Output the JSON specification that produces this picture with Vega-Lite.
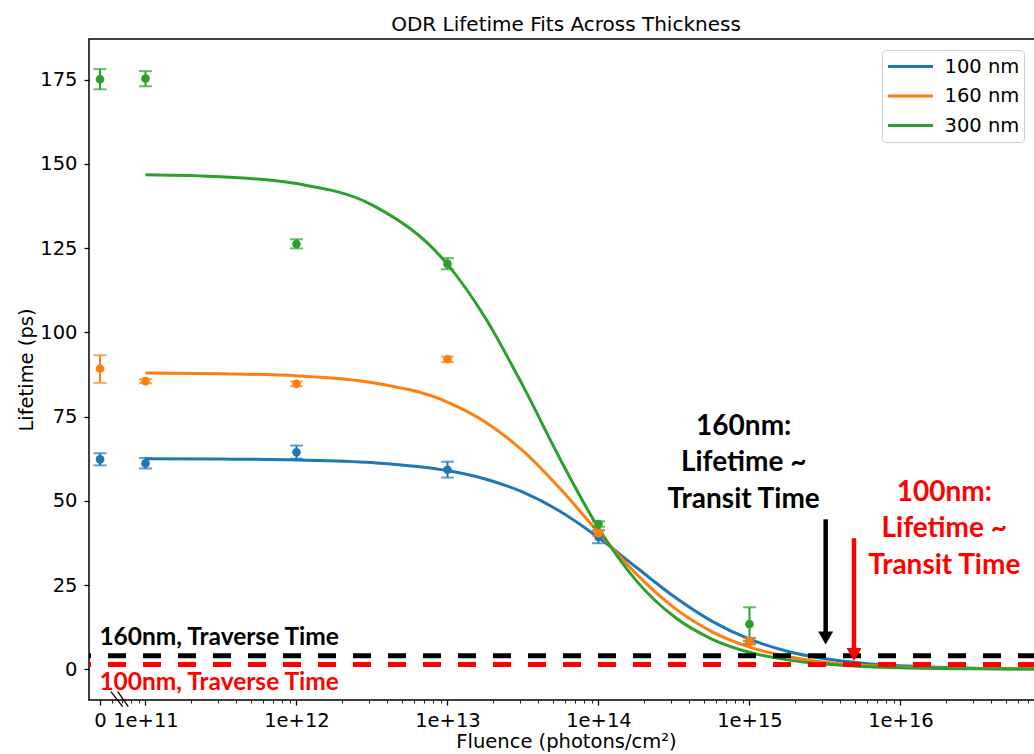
{
  "$schema": "https://vega.github.io/schema/vega-lite/v6.json",
  "width": 947,
  "height": 661,
  "autosize": {"type": "none"},
  "padding": {"left": 89, "top": 39, "right": -2, "bottom": 54},
  "background": "white",
  "title": {"text": "ODR Lifetime Fits Across Thickness", "font": "DejaVu Sans", "fontSize": 20, "fontWeight": "normal", "color": "black", "offset": 4, "dx": 3.5},
  "config": {
    "view": {"stroke": "black", "strokeWidth": 1.5},
    "axis": {"grid": false, "domain": false, "tickColor": "black", "tickWidth": 1.3, "tickSize": 5, "labelFont": "DejaVu Sans", "labelFontSize": 19.5, "labelColor": "black", "titleFont": "DejaVu Sans", "titleFontSize": 19.5, "titleFontWeight": "normal", "titleColor": "black"}
  },
  "datasets": {
    "points": [
      {"series": "100 nm", "fluence": 5e10, "lifetime": 62.3, "lo": 60.5, "hi": 64.1},
      {"series": "100 nm", "fluence": 1e11, "lifetime": 61.1, "lo": 59.6, "hi": 62.7},
      {"series": "100 nm", "fluence": 1e12, "lifetime": 64.4, "lo": 62.5, "hi": 66.4},
      {"series": "100 nm", "fluence": 1e13, "lifetime": 59.2, "lo": 56.9, "hi": 61.6},
      {"series": "100 nm", "fluence": 1e14, "lifetime": 39.3, "lo": 37.4, "hi": 41.2},
      {"series": "100 nm", "fluence": 1e15, "lifetime": 8.4, "lo": 7.5, "hi": 9.3},
      {"series": "160 nm", "fluence": 5e10, "lifetime": 89.2, "lo": 85.0, "hi": 93.2},
      {"series": "160 nm", "fluence": 1e11, "lifetime": 85.5, "lo": 84.9, "hi": 86.1},
      {"series": "160 nm", "fluence": 1e12, "lifetime": 84.7, "lo": 84.0, "hi": 85.4},
      {"series": "160 nm", "fluence": 1e13, "lifetime": 92.0, "lo": 91.2, "hi": 92.8},
      {"series": "160 nm", "fluence": 1e14, "lifetime": 40.4, "lo": 39.6, "hi": 41.2},
      {"series": "160 nm", "fluence": 1e15, "lifetime": 8.3, "lo": 7.3, "hi": 9.3},
      {"series": "300 nm", "fluence": 5e10, "lifetime": 175.1, "lo": 172.1, "hi": 178.1},
      {"series": "300 nm", "fluence": 1e11, "lifetime": 175.3, "lo": 173.0, "hi": 177.5},
      {"series": "300 nm", "fluence": 1e12, "lifetime": 126.2, "lo": 124.9, "hi": 127.6},
      {"series": "300 nm", "fluence": 1e13, "lifetime": 120.3, "lo": 118.7, "hi": 122.0},
      {"series": "300 nm", "fluence": 1e14, "lifetime": 43.1, "lo": 42.3, "hi": 43.9},
      {"series": "300 nm", "fluence": 1e15, "lifetime": 13.4, "lo": 8.4, "hi": 18.4}
    ],
    "fits": [
      {"series": "100 nm", "fluence": 1e11, "lifetime": 62.46},
      {"series": "100 nm", "fluence": 3.162e11, "lifetime": 62.38},
      {"series": "100 nm", "fluence": 1e12, "lifetime": 62.13},
      {"series": "100 nm", "fluence": 3.162e12, "lifetime": 61.34},
      {"series": "100 nm", "fluence": 1e13, "lifetime": 58.97},
      {"series": "100 nm", "fluence": 1.778e13, "lifetime": 56.48},
      {"series": "100 nm", "fluence": 3.162e13, "lifetime": 52.55},
      {"series": "100 nm", "fluence": 5.623e13, "lifetime": 46.75},
      {"series": "100 nm", "fluence": 1e14, "lifetime": 39.09},
      {"series": "100 nm", "fluence": 1.778e14, "lifetime": 30.27},
      {"series": "100 nm", "fluence": 3.162e14, "lifetime": 21.6},
      {"series": "100 nm", "fluence": 5.623e14, "lifetime": 14.31},
      {"series": "100 nm", "fluence": 1e15, "lifetime": 8.95},
      {"series": "100 nm", "fluence": 1.778e15, "lifetime": 5.37},
      {"series": "100 nm", "fluence": 3.162e15, "lifetime": 3.13},
      {"series": "100 nm", "fluence": 5.623e15, "lifetime": 1.81},
      {"series": "100 nm", "fluence": 1e16, "lifetime": 1.02},
      {"series": "100 nm", "fluence": 3.162e16, "lifetime": 0.33},
      {"series": "100 nm", "fluence": 1e17, "lifetime": 0.1},
      {"series": "160 nm", "fluence": 1e11, "lifetime": 87.9},
      {"series": "160 nm", "fluence": 3.162e11, "lifetime": 87.7},
      {"series": "160 nm", "fluence": 1e12, "lifetime": 87.1},
      {"series": "160 nm", "fluence": 3.162e12, "lifetime": 85.1},
      {"series": "160 nm", "fluence": 1e13, "lifetime": 79.3},
      {"series": "160 nm", "fluence": 1.778e13, "lifetime": 73.4},
      {"series": "160 nm", "fluence": 3.162e13, "lifetime": 64.8},
      {"series": "160 nm", "fluence": 5.623e13, "lifetime": 53.4},
      {"series": "160 nm", "fluence": 1e14, "lifetime": 40.6},
      {"series": "160 nm", "fluence": 1.778e14, "lifetime": 28.3},
      {"series": "160 nm", "fluence": 3.162e14, "lifetime": 18.3},
      {"series": "160 nm", "fluence": 5.623e14, "lifetime": 11.2},
      {"series": "160 nm", "fluence": 1e15, "lifetime": 6.6},
      {"series": "160 nm", "fluence": 1.778e15, "lifetime": 3.8},
      {"series": "160 nm", "fluence": 3.162e15, "lifetime": 2.1},
      {"series": "160 nm", "fluence": 5.623e15, "lifetime": 1.2},
      {"series": "160 nm", "fluence": 1e16, "lifetime": 0.68},
      {"series": "160 nm", "fluence": 3.162e16, "lifetime": 0.21},
      {"series": "160 nm", "fluence": 1e17, "lifetime": 0.06},
      {"series": "300 nm", "fluence": 1e11, "lifetime": 146.74},
      {"series": "300 nm", "fluence": 3.162e11, "lifetime": 146.13},
      {"series": "300 nm", "fluence": 1e12, "lifetime": 144.13},
      {"series": "300 nm", "fluence": 3.162e12, "lifetime": 137.81},
      {"series": "300 nm", "fluence": 1e13, "lifetime": 120.16},
      {"series": "300 nm", "fluence": 1.778e13, "lifetime": 104.34},
      {"series": "300 nm", "fluence": 3.162e13, "lifetime": 84.09},
      {"series": "300 nm", "fluence": 5.623e13, "lifetime": 62.05},
      {"series": "300 nm", "fluence": 1e14, "lifetime": 41.93},
      {"series": "300 nm", "fluence": 1.778e14, "lifetime": 26.32},
      {"series": "300 nm", "fluence": 3.162e14, "lifetime": 15.65},
      {"series": "300 nm", "fluence": 5.623e14, "lifetime": 8.98},
      {"series": "300 nm", "fluence": 1e15, "lifetime": 5.05},
      {"series": "300 nm", "fluence": 1.778e15, "lifetime": 2.8},
      {"series": "300 nm", "fluence": 3.162e15, "lifetime": 1.54},
      {"series": "300 nm", "fluence": 5.623e15, "lifetime": 0.85},
      {"series": "300 nm", "fluence": 1e16, "lifetime": 0.46},
      {"series": "300 nm", "fluence": 3.162e16, "lifetime": 0.14},
      {"series": "300 nm", "fluence": 1e17, "lifetime": 0.04}
    ],
    "refs": [
      {"group": "160nm", "lifetime": 4.0},
      {"group": "100nm", "lifetime": 1.4}
    ],
    "arrows": [
      {"group": "160nm", "fluence": 3.196e15, "top": 44.5, "base": 10.6, "head": 9.3},
      {"group": "100nm", "fluence": 4.92e15, "top": 38.9, "base": 5.6, "head": 4.4}
    ],
    "notes": [
      {"group": "160nm", "kind": "small", "fluence": 4.95e10, "lifetime": 7.2, "text": "160nm, Traverse Time"},
      {"group": "100nm", "kind": "small", "fluence": 4.95e10, "lifetime": -6.1, "text": "100nm, Traverse Time"},
      {"group": "160nm", "kind": "big", "fluence": 9.155e14, "lifetime": 69.5, "text": "160nm:"},
      {"group": "160nm", "kind": "big", "fluence": 9.155e14, "lifetime": 58.9, "text": "Lifetime ~"},
      {"group": "160nm", "kind": "big", "fluence": 9.155e14, "lifetime": 48.0, "text": "Transit Time"},
      {"group": "100nm", "kind": "big", "fluence": 1.95e16, "lifetime": 50.0, "text": "100nm:"},
      {"group": "100nm", "kind": "big", "fluence": 1.95e16, "lifetime": 39.2, "text": "Lifetime ~"},
      {"group": "100nm", "kind": "big", "fluence": 1.95e16, "lifetime": 28.2, "text": "Transit Time"}
    ],
    "breaks": [
      {"fluence": 5.9e10, "fluence2": 7.06e10, "lifetime": -6.65, "lifetime2": -11.1},
      {"fluence": 6.55e10, "fluence2": 7.69e10, "lifetime": -6.65, "lifetime2": -11.1}
    ]
  },
  "resolve": {"scale": {"color": "independent"}},
  "layer": [
    {
      "data": {"name": "fits"},
      "mark": {"type": "line", "strokeWidth": 3, "interpolate": "monotone", "clip": true},
      "encoding": {
        "x": {"field": "fluence", "type": "quantitative", "title": "Fluence (photons/cm²)", "scale": {"type": "log", "domain": [4.225e10, 7.898e16], "nice": false},
          "axis": {
            "values": [5e10, 6e10, 7e10, 8e10, 9e10,
              1e11, 2e11, 3e11, 4e11, 5e11, 6e11, 7e11, 8e11, 9e11,
              1e12, 2e12, 3e12, 4e12, 5e12, 6e12, 7e12, 8e12, 9e12,
              1e13, 2e13, 3e13, 4e13, 5e13, 6e13, 7e13, 8e13, 9e13,
              1e14, 2e14, 3e14, 4e14, 5e14, 6e14, 7e14, 8e14, 9e14,
              1e15, 2e15, 3e15, 4e15, 5e15, 6e15, 7e15, 8e15, 9e15,
              1e16, 2e16, 3e16, 4e16, 5e16, 6e16, 7e16],
            "labelExpr": "datum.value < 5.5e10 ? '0' : (abs(log(datum.value) / LN10 - round(log(datum.value) / LN10)) < 0.001 ? '1e+' + round(log(datum.value) / LN10) : '')",
            "tickSize": {"condition": {"test": "datum.value < 5.5e10 || abs(log(datum.value) / LN10 - round(log(datum.value) / LN10)) < 0.001", "value": 5}, "value": 3},
            "tickWidth": {"condition": {"test": "datum.value < 5.5e10 || abs(log(datum.value) / LN10 - round(log(datum.value) / LN10)) < 0.001", "value": 1.3}, "value": 0.9},
            "labelOverlap": false, "labelFlush": false, "labelPadding": 6, "titlePadding": 3, "titleX": 477}},
        "y": {"field": "lifetime", "type": "quantitative", "title": "Lifetime (ps)", "scale": {"domain": [-9.11, 187.03], "nice": false, "zero": false},
          "axis": {"values": [0, 25, 50, 75, 100, 125, 150, 175], "labelPadding": 7, "titlePadding": 3}},
        "color": {"field": "series", "type": "nominal", "scale": {"domain": ["100 nm", "160 nm", "300 nm"], "range": ["#1f77b4", "#ff7f0e", "#2ca02c"]},
          "legend": {"orient": "none", "legendX": 793, "legendY": 11, "title": null, "symbolType": "stroke", "symbolSize": 2025, "symbolStrokeWidth": 3, "clipHeight": 24, "labelFont": "DejaVu Sans", "labelFontSize": 19.5, "labelColor": "black", "labelOffset": 10, "rowPadding": 5.5, "padding": 4.5, "strokeColor": "#cccccc", "cornerRadius": 4, "fillColor": "white"}}
      }
    },
    {
      "data": {"name": "points"},
      "mark": {"type": "rule", "strokeWidth": 2},
      "encoding": {
        "x": {"field": "fluence", "type": "quantitative", "title": "Fluence (photons/cm²)"},
        "y": {"field": "lo", "type": "quantitative", "title": "Lifetime (ps)"},
        "y2": {"field": "hi"},
        "color": {"field": "series", "type": "nominal", "scale": {"domain": ["100 nm", "160 nm", "300 nm"], "range": ["#1f77b4", "#ff7f0e", "#2ca02c"]}, "legend": null}
      }
    },
    {
      "data": {"name": "points"},
      "mark": {"type": "tick", "orient": "horizontal", "size": 13, "thickness": 2},
      "encoding": {
        "x": {"field": "fluence", "type": "quantitative", "title": "Fluence (photons/cm²)"},
        "y": {"field": "lo", "type": "quantitative", "title": "Lifetime (ps)"},
        "color": {"field": "series", "type": "nominal", "scale": {"domain": ["100 nm", "160 nm", "300 nm"], "range": ["#1f77b4", "#ff7f0e", "#2ca02c"]}, "legend": null}
      }
    },
    {
      "data": {"name": "points"},
      "mark": {"type": "tick", "orient": "horizontal", "size": 13, "thickness": 2},
      "encoding": {
        "x": {"field": "fluence", "type": "quantitative", "title": "Fluence (photons/cm²)"},
        "y": {"field": "hi", "type": "quantitative", "title": "Lifetime (ps)"},
        "color": {"field": "series", "type": "nominal", "scale": {"domain": ["100 nm", "160 nm", "300 nm"], "range": ["#1f77b4", "#ff7f0e", "#2ca02c"]}, "legend": null}
      }
    },
    {
      "data": {"name": "points"},
      "mark": {"type": "point", "shape": "circle", "filled": true, "size": 75, "opacity": 1},
      "encoding": {
        "x": {"field": "fluence", "type": "quantitative", "title": "Fluence (photons/cm²)"},
        "y": {"field": "lifetime", "type": "quantitative", "title": "Lifetime (ps)"},
        "color": {"field": "series", "type": "nominal", "scale": {"domain": ["100 nm", "160 nm", "300 nm"], "range": ["#1f77b4", "#ff7f0e", "#2ca02c"]}, "legend": null}
      }
    },
    {
      "data": {"name": "refs"},
      "mark": {"type": "rule", "strokeWidth": 5, "strokeDash": [18, 17]},
      "encoding": {
        "y": {"field": "lifetime", "type": "quantitative", "title": "Lifetime (ps)"},
        "color": {"field": "group", "type": "nominal", "scale": {"domain": ["160nm", "100nm"], "range": ["black", "red"]}, "legend": null}
      }
    },
    {
      "data": {"name": "arrows"},
      "mark": {"type": "rule", "strokeWidth": 4.5},
      "encoding": {
        "x": {"field": "fluence", "type": "quantitative", "title": "Fluence (photons/cm²)"},
        "y": {"field": "top", "type": "quantitative", "title": "Lifetime (ps)"},
        "y2": {"field": "base"},
        "color": {"field": "group", "type": "nominal", "scale": {"domain": ["160nm", "100nm"], "range": ["black", "red"]}, "legend": null}
      }
    },
    {
      "data": {"name": "arrows"},
      "mark": {"type": "point", "shape": "triangle-down", "filled": true, "size": 225, "opacity": 1},
      "encoding": {
        "x": {"field": "fluence", "type": "quantitative", "title": "Fluence (photons/cm²)"},
        "y": {"field": "head", "type": "quantitative", "title": "Lifetime (ps)"},
        "color": {"field": "group", "type": "nominal", "scale": {"domain": ["160nm", "100nm"], "range": ["black", "red"]}, "legend": null}
      }
    },
    {
      "data": {"name": "notes"},
      "transform": [{"filter": {"field": "kind", "equal": "small"}}],
      "mark": {"type": "text", "font": "Lato", "fontWeight": "bold", "fontSize": 24.5, "align": "left", "baseline": "alphabetic"},
      "encoding": {
        "x": {"field": "fluence", "type": "quantitative", "title": "Fluence (photons/cm²)"},
        "y": {"field": "lifetime", "type": "quantitative", "title": "Lifetime (ps)"},
        "text": {"field": "text", "type": "nominal"},
        "color": {"field": "group", "type": "nominal", "scale": {"domain": ["160nm", "100nm"], "range": ["black", "red"]}, "legend": null}
      }
    },
    {
      "data": {"name": "notes"},
      "transform": [{"filter": {"field": "kind", "equal": "big"}}],
      "mark": {"type": "text", "font": "Lato", "fontWeight": "bold", "fontSize": 28, "align": "center", "baseline": "alphabetic"},
      "encoding": {
        "x": {"field": "fluence", "type": "quantitative", "title": "Fluence (photons/cm²)"},
        "y": {"field": "lifetime", "type": "quantitative", "title": "Lifetime (ps)"},
        "text": {"field": "text", "type": "nominal"},
        "color": {"field": "group", "type": "nominal", "scale": {"domain": ["160nm", "100nm"], "range": ["black", "red"]}, "legend": null}
      }
    },
    {
      "data": {"name": "breaks"},
      "mark": {"type": "rule", "strokeWidth": 1.3, "color": "black"},
      "encoding": {
        "x": {"field": "fluence", "type": "quantitative", "title": "Fluence (photons/cm²)"},
        "x2": {"field": "fluence2"},
        "y": {"field": "lifetime", "type": "quantitative", "title": "Lifetime (ps)"},
        "y2": {"field": "lifetime2"}
      }
    }
  ]
}
